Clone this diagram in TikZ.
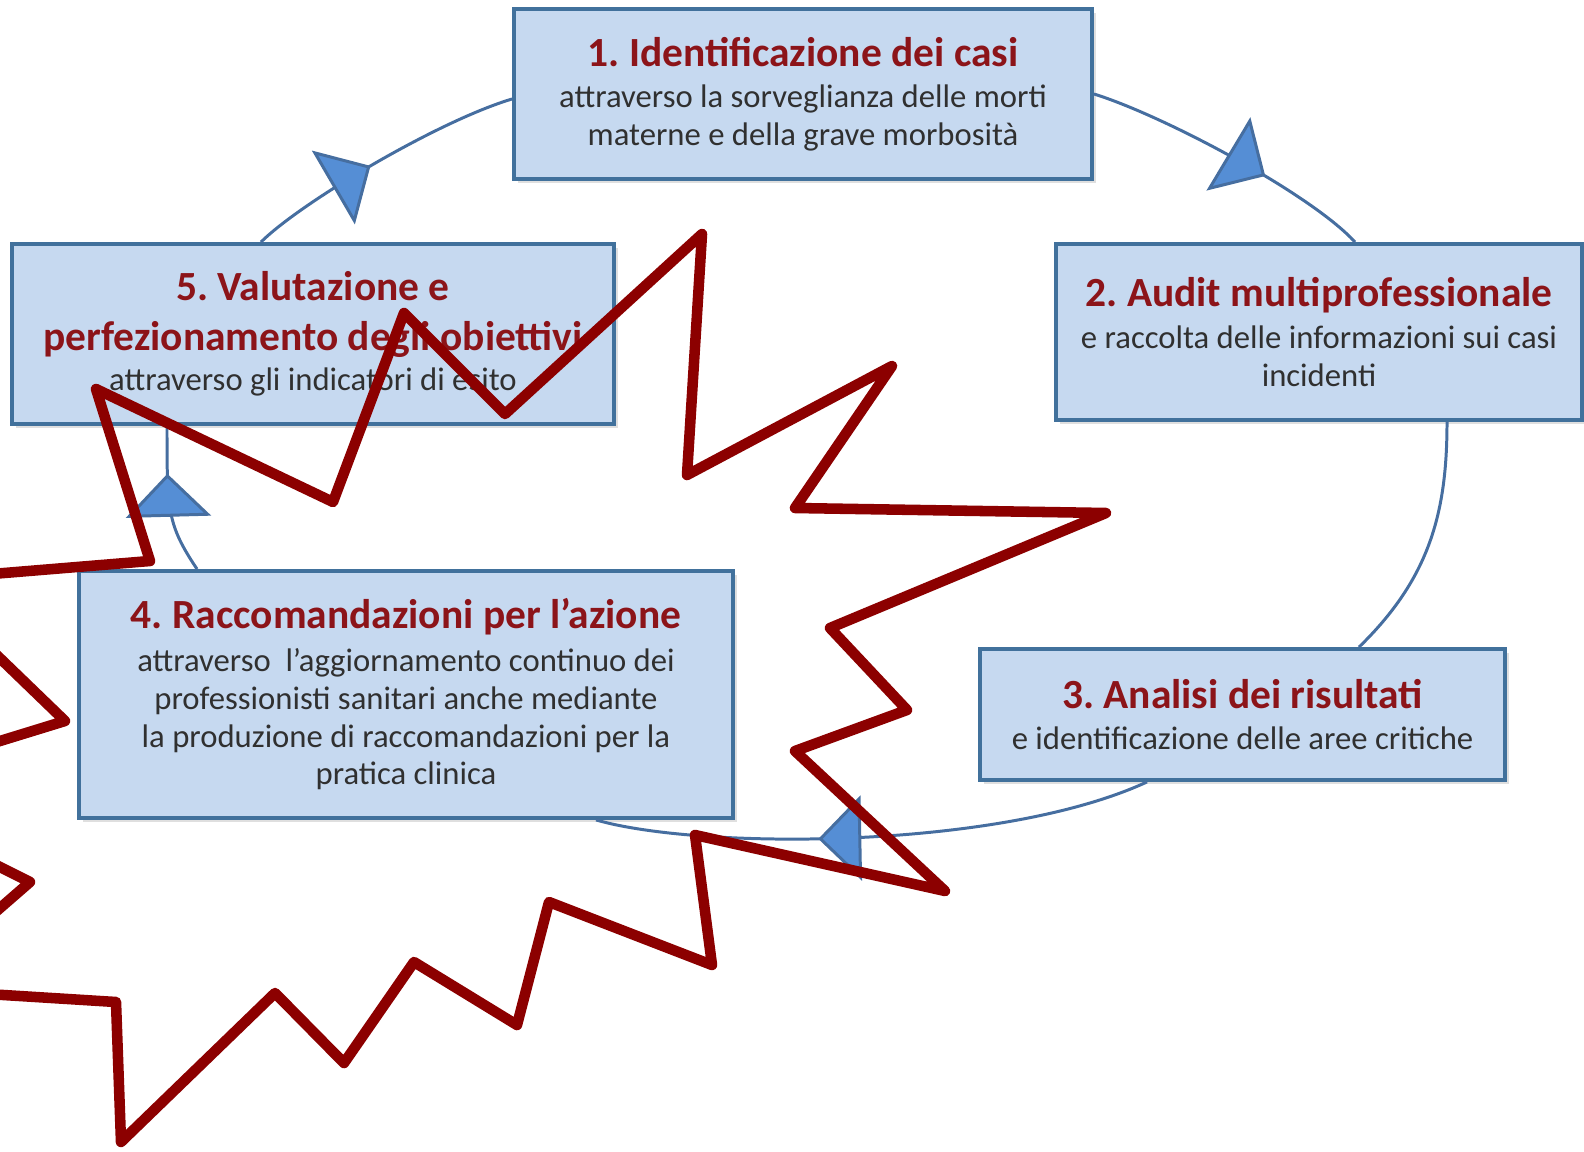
\documentclass[tikz,border=0pt]{standalone}
\usepackage{fontspec}
\setmainfont{Carlito}
\usepackage{tikz}
\usetikzlibrary{arrows.meta, decorations.markings, shadows, calc}
\frenchspacing
\definecolor{boxfill}{RGB}{198,217,240}
\definecolor{boxline}{RGB}{65,113,156}
\definecolor{titlered}{RGB}{140,20,25}
\definecolor{subgray}{RGB}{48,48,48}
\definecolor{loopline}{RGB}{70,110,160}
\definecolor{tipfill}{RGB}{85,142,213}
\definecolor{burst}{RGB}{140,0,0}
\newcommand{\fasetitolo}{\bfseries\color{titlered}\fontsize{11.8}{14.2}\selectfont}
\tikzstyle{fase} = [rectangle, draw=boxline, line width=1.1pt, fill=boxfill, align=center, text=subgray, font=\fontsize{9.3}{10.8}\selectfont, inner sep=0pt, drop shadow={shadow xshift=0.4mm, shadow yshift=-0.4mm, opacity=0.25}]
\tikzstyle{ciclo} = [draw=loopline, line width=0.85pt]
\tikzstyle{esplosione} = [draw=burst, line width=3pt, line join=round]
\tikzset{punta/.style={postaction={decorate}, decoration={markings, mark=at position #1 with {\arrow{Triangle[width=8.5mm, length=4.3mm, fill=tipfill]}}}}}

\begin{document}
\begin{tikzpicture}[x=0.1mm, y=-0.1mm]
    \useasboundingbox (0,0) rectangle (1584,1151);

    % Fasi del ciclo
    \node[fase, minimum width=57.8mm, minimum height=17mm] (identificazione) at (803,94)
        {{\fasetitolo 1. Identificazione dei casi}\\[0.9pt]
        attraverso la sorveglianza delle morti\\
        materne e della grave morbosità};

    \node[fase, minimum width=52.6mm, minimum height=17.6mm] (audit) at (1319,332)
        {{\fasetitolo 2. Audit multiprofessionale}\\[0.9pt]
        e raccolta delle informazioni sui casi\\
        incidenti};

    \node[fase, minimum width=52.5mm, minimum height=13.1mm] (analisi) at (1242.5,714.5)
        {{\fasetitolo 3. Analisi dei risultati}\\[0.9pt]
        e identificazione delle aree critiche};

    \node[fase, minimum width=65.4mm, minimum height=24.7mm] (raccomandazioni) at (406,694.5)
        {{\fasetitolo 4. Raccomandazioni per l’azione}\\[1.2pt]
        attraverso\ \ l’aggiornamento continuo dei\\
        professionisti sanitari anche mediante\\
        la produzione di raccomandazioni per la\\
        pratica clinica};

    \node[fase, minimum width=60.2mm, minimum height=18mm] (valutazione) at (313,334)
        {{\fasetitolo 5. Valutazione e}\\[3.4pt]
        {\fasetitolo perfezionamento degli obiettivi}\\[0.6pt]
        attraverso gli indicatori di esito};

    % Ciclo
    \draw[ciclo, punta=0.63] (identificazione.east) .. controls +(68,21) and +(-45,-49) .. ($(audit.north)+(36,0)$);
    \draw[ciclo] ($(audit.south)+(128,0)$) .. controls +(0,90) and +(71,-69) .. ($(analisi.north)+(116.5,0)$);
    \draw[ciclo, punta=0.6] ($(analisi.south)+(-95.5,0)$) .. controls +(-147,68) and +(104,30) .. ($(raccomandazioni.south)+(190,0)$);
    \draw[ciclo, punta=0.68] ($(raccomandazioni.north)+(-209,0)$) .. controls +(-30,-45) and +(0,85) .. ($(valutazione.south)+(-146,0)$);
    \draw[ciclo, punta=0.46] ($(valutazione.north)+(-52,0)$) .. controls +(39,-39) and +(-74,22) .. ($(identificazione.west)+(0,5)$);

    % Esplosione
    \begin{scope}
        \clip (0,0) rectangle (1584,1151);
        \draw[esplosione] (96,389) -- (333,502) -- (404,313) -- (505,414) -- (702,234) -- (687,475)
            -- (892,366) -- (795,508) -- (1106,513) -- (830,628) -- (907,710) -- (795,751)
            -- (945,891) -- (695,835) -- (712,965) -- (549,902) -- (517,1025) -- (414,962)
            -- (344,1063) -- (275,993) -- (121,1142) -- (116,1002) -- (-93,989) -- (30,882)
            -- (-156,789) -- (65,721) -- (-81,580) -- (150,561) -- cycle;
    \end{scope}
\end{tikzpicture}
\end{document}
